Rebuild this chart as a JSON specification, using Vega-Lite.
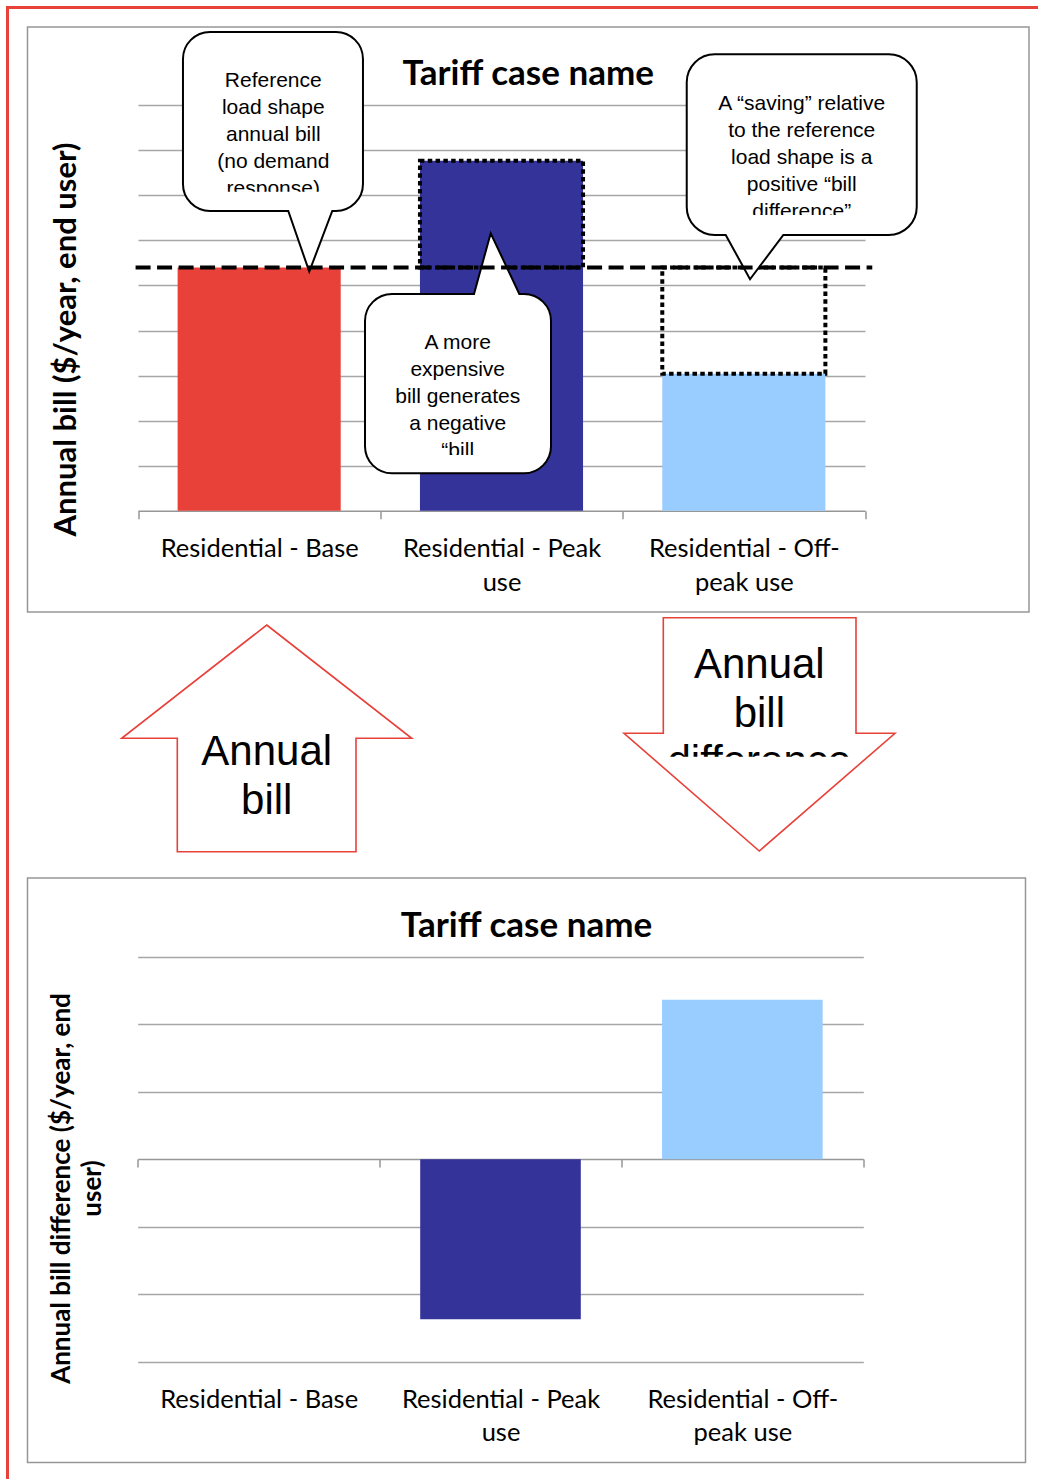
{
  "$schema": "https://vega.github.io/schema/vega-lite/v6.json",
  "background": "white",
  "padding": {"left": 6, "top": 6, "right": 0, "bottom": 0},
  "config": {"view": {"stroke": null}, "font": "Lato"},
  "datasets": {
    "bills": [
      {"cat": "Residential - Base", "bill": 540, "reference": 540, "difference": 0, "note": "Reference\nload shape\nannual bill\n(no demand\nresponse)"},
      {"cat": "Residential - Peak use", "bill": 777, "reference": 540, "difference": -237, "note": "A more\nexpensive\nbill generates\na negative\n“bill"},
      {"cat": "Residential - Off-peak use", "bill": 304, "reference": 540, "difference": 236, "note": "A “saving” relative\nto the reference\nload shape is a\npositive “bill\ndifference”"}
    ],
    "arrows": [
      {"arrow": "Annual bill"},
      {"arrow": "Annual bill difference"}
    ]
  },
  "spacing": 0,
  "bounds": "flush",
  "resolve": {"scale": {"shape": "independent", "color": "independent"}},
  "vconcat": [
    {
      "width": 1032,
      "height": 3,
      "view": {"fill": "#e8413a", "stroke": null},
      "data": {"values": [{}]},
      "mark": {"type": "point", "size": 0, "opacity": 0, "strokeWidth": 0}
    },
    {
      "spacing": 18.5,
      "bounds": "flush",
      "resolve": {"scale": {"shape": "independent", "color": "independent"}},
      "hconcat": [
        {
          "width": 3,
          "height": 1470,
          "view": {"fill": "#e8413a", "stroke": null},
          "data": {"values": [{}]},
          "mark": {"type": "point", "size": 0, "opacity": 0, "strokeWidth": 0}
        },
        {
          "spacing": 0,
          "bounds": "flush",
          "resolve": {"scale": {"shape": "independent", "color": "independent"}},
          "vconcat": [
            {
              "width": 1001.5,
              "height": 18,
              "data": {"values": [{}]},
              "mark": {"type": "point", "size": 0, "opacity": 0, "strokeWidth": 0}
            },
            {
              "width": 1001.5,
              "height": 585,
              "view": {"stroke": "#969696", "strokeWidth": 1.5, "fill": "white"},
              "title": {"text": "Tariff case name", "offset": -93, "baseline": "alphabetic", "anchor": "middle", "font": "Lato", "fontSize": 35, "fontWeight": "bold", "color": "black"},
              "data": {"name": "bills"},
              "resolve": {"scale": {"shape": "independent"}},
              "encoding": {
                "x": {
                  "field": "cat", "type": "nominal", "sort": null, "title": null,
                  "scale": {"range": [110.5, 837.5], "paddingInner": 0, "paddingOuter": 0},
                  "axis": {
                    "orient": "bottom", "offset": -101.3, "grid": false, "title": null,
                    "domainColor": "#969696", "domainWidth": 1.5,
                    "tickColor": "#969696", "tickWidth": 1.5, "tickSize": 8, "tickBand": "extent",
                    "labelPadding": 38, "labelBaseline": "alphabetic", "labelFont": "Lato", "labelFontSize": 25.5,
                    "labelColor": "black", "labelAngle": 0, "labelLineHeight": 33.5, "labelLimit": 400,
                    "labelOverlap": false, "labelBound": false,
                    "labelExpr": "datum.value == 'Residential - Peak use' ? ['Residential - Peak', 'use'] : datum.value == 'Residential - Off-peak use' ? ['Residential - Off-', 'peak use'] : datum.value"
                  }
                },
                "y": {
                  "field": "bill", "type": "quantitative",
                  "scale": {"domain": [0, 900], "range": [483.7, 78.3], "nice": false},
                  "axis": {
                    "orient": "left", "labels": false, "ticks": false, "domain": false,
                    "grid": true, "values": [100, 200, 300, 400, 500, 600, 700, 800, 900],
                    "gridColor": "#a6a6a6", "gridWidth": 1.5,
                    "title": "Annual bill ($/year, end user)", "titleFont": "Lato", "titleFontSize": 31,
                    "titleFontWeight": "bold", "titleColor": "black", "titleAngle": -90,
                    "titleX": 48, "titleY": 312, "titleAlign": "center", "titleBaseline": "alphabetic"
                  }
                }
              },
              "layer": [
                {
                  "mark": {"type": "bar", "width": {"band": 0.673}},
                  "encoding": {
                    "color": {
                      "field": "cat", "type": "nominal",
                      "scale": {"domain": ["Residential - Base", "Residential - Peak use", "Residential - Off-peak use"], "range": ["#e8413a", "#333399", "#99ccff"]},
                      "legend": null
                    }
                  }
                },
                {
                  "transform": [{"filter": "datum.difference != 0"}],
                  "mark": {"type": "bar", "width": {"band": 0.673}, "fillOpacity": 0, "stroke": "black", "strokeWidth": 4, "strokeDash": [4.5, 3.3]},
                  "encoding": {
                    "y2": {"field": "reference"}
                  }
                },
                {
                  "mark": {"type": "point", "filled": true, "fill": "white", "stroke": "black", "strokeWidth": 2, "size": 40000, "opacity": 1},
                  "encoding": {
                    "y": {"field": "reference", "type": "quantitative"},
                    "shape": {
                      "field": "cat", "type": "nominal", "legend": null,
                      "scale": {
                        "domain": ["Residential - Base", "Residential - Peak use", "Residential - Off-peak use"],
                        "range": [
                          "M-0.492,-2.355L0.768,-2.355C0.917,-2.355 1.038,-2.234 1.038,-2.085L1.038,-0.835C1.038,-0.686 0.917,-0.565 0.768,-0.565L0.731,-0.565L0.501,0.042L0.291,-0.565L-0.492,-0.565C-0.641,-0.565 -0.762,-0.686 -0.762,-0.835L-0.762,-2.085C-0.762,-2.234 -0.641,-2.355 -0.492,-2.355Z",
                          "M-1.095,0.265L-0.275,0.265L-0.108,-0.342L0.178,0.265L0.225,0.265C0.374,0.265 0.495,0.386 0.495,0.535L0.495,1.788C0.495,1.937 0.374,2.058 0.225,2.058L-1.095,2.058C-1.244,2.058 -1.365,1.937 -1.365,1.788L-1.365,0.535C-1.365,0.386 -1.244,0.265 -1.095,0.265Z",
                          "M-0.291,-2.132L1.449,-2.132C1.604,-2.132 1.729,-2.007 1.729,-1.852L1.729,-0.605C1.729,-0.45 1.604,-0.325 1.449,-0.325L0.395,-0.325L0.062,0.118L-0.181,-0.325L-0.291,-0.325C-0.446,-0.325 -0.571,-0.45 -0.571,-0.605L-0.571,-1.852C-0.571,-2.007 -0.446,-2.132 -0.291,-2.132Z"
                        ]
                      }
                    }
                  }
                },
                {
                  "transform": [{"filter": "datum.cat == 'Residential - Base'"}],
                  "mark": {"type": "text", "font": "Liberation Sans", "fontSize": 21, "lineHeight": 27, "lineBreak": "\n", "align": "center", "baseline": "alphabetic", "color": "black", "dx": 14.1, "dy": -180.2},
                  "encoding": {
                    "y": {"field": "reference", "type": "quantitative"},
                    "text": {"field": "note"}
                  }
                },
                {
                  "transform": [{"filter": "datum.cat == 'Residential - Peak use'"}],
                  "mark": {"type": "text", "font": "Liberation Sans", "fontSize": 21, "lineHeight": 27, "lineBreak": "\n", "align": "center", "baseline": "alphabetic", "color": "black", "dx": -43.8, "dy": 81.5},
                  "encoding": {
                    "y": {"field": "reference", "type": "quantitative"},
                    "text": {"field": "note"}
                  }
                },
                {
                  "transform": [{"filter": "datum.cat == 'Residential - Off-peak use'"}],
                  "mark": {"type": "text", "font": "Liberation Sans", "fontSize": 21, "lineHeight": 27, "lineBreak": "\n", "align": "center", "baseline": "alphabetic", "color": "black", "dx": 57.9, "dy": -157.5},
                  "encoding": {
                    "y": {"field": "reference", "type": "quantitative"},
                    "text": {"field": "note"}
                  }
                },
                {
                  "mark": {"type": "point", "filled": true, "fill": "white", "strokeWidth": 0, "size": 40000, "opacity": 1},
                  "encoding": {
                    "y": {"field": "reference", "type": "quantitative"},
                    "shape": {
                      "field": "cat", "type": "nominal", "legend": null,
                      "scale": {
                        "domain": ["Residential - Base", "Residential - Peak use", "Residential - Off-peak use"],
                        "range": [
                          "M-0.44,-0.758L0.76,-0.758L0.76,-0.615L-0.44,-0.615Z",
                          "M-0.915,1.875L0.035,1.875L0.035,2.015L-0.915,2.015Z",
                          "M-0.14,-0.525L1.362,-0.525L1.362,-0.375L-0.14,-0.375Z"
                        ]
                      }
                    }
                  }
                },
                {
                  "transform": [{"filter": "datum.cat == 'Residential - Base'"}],
                  "mark": {"type": "rule", "color": "black", "strokeWidth": 4, "strokeDash": [15, 6.5]},
                  "encoding": {
                    "x": {"datum": "Residential - Base", "type": "nominal", "bandPosition": -0.01},
                    "x2": {"datum": "Residential - Off-peak use", "bandPosition": 1.03},
                    "y": {"field": "reference", "type": "quantitative"}
                  }
                }
              ]
            },
            {
              "width": 1001.5,
              "height": 265.5,
              "data": {"name": "arrows"},
              "layer": [
                {
                  "mark": {"type": "point", "filled": true, "fill": "white", "strokeWidth": 0, "size": 40000, "opacity": 1},
                  "encoding": {
                    "x": {"field": "arrow", "type": "nominal", "sort": null, "scale": {"type": "point", "range": [239.2, 731.8], "padding": 0}, "axis": null},
                    "shape": {
                      "field": "arrow", "type": "nominal", "legend": null,
                      "scale": {
                        "domain": ["Annual bill", "Annual bill difference"],
                        "range": [
                          "M0,-1.1975L1.45,-0.0645L0.893,-0.0645L0.893,1.0695L-0.894,1.0695L-0.894,-0.0645L-1.45,-0.0645Z",
                          "M-0.96,-1.2705L0.967,-1.2705L0.967,-0.1145L1.357,-0.1145L0,1.0625L-1.353,-0.1145L-0.96,-0.1145Z"
                        ]
                      }
                    }
                  }
                },
                {
                  "transform": [{"filter": "datum.arrow == 'Annual bill'"}],
                  "mark": {"type": "text", "font": "Liberation Sans", "fontSize": 42, "lineHeight": 49, "lineBreak": " ", "align": "center", "baseline": "alphabetic", "color": "black", "dy": 20.25},
                  "encoding": {
                    "x": {"field": "arrow", "type": "nominal", "sort": null, "axis": null},
                    "text": {"field": "arrow"}
                  }
                },
                {
                  "transform": [{"filter": "datum.arrow == 'Annual bill difference'"}],
                  "mark": {"type": "text", "font": "Liberation Sans", "fontSize": 42, "lineHeight": 48.5, "lineBreak": " ", "align": "center", "baseline": "alphabetic", "color": "black", "dy": -66.45},
                  "encoding": {
                    "x": {"field": "arrow", "type": "nominal", "sort": null, "axis": null},
                    "text": {"field": "arrow"}
                  }
                },
                {
                  "transform": [{"filter": "datum.arrow == 'Annual bill difference'"}],
                  "mark": {"type": "point", "filled": true, "fill": "white", "strokeWidth": 0, "size": 40000, "opacity": 1, "shape": "M-1.093,0.12L1.107,0.12L1.107,0.46L-1.093,0.46Z"},
                  "encoding": {
                    "x": {"field": "arrow", "type": "nominal", "sort": null, "axis": null}
                  }
                },
                {
                  "mark": {"type": "point", "filled": false, "fill": null, "stroke": "#e8413a", "strokeWidth": 1.6, "size": 40000, "opacity": 1},
                  "encoding": {
                    "x": {"field": "arrow", "type": "nominal", "sort": null, "axis": null},
                    "shape": {"field": "arrow", "type": "nominal", "legend": null}
                  }
                }
              ]
            },
            {
              "width": 998,
              "height": 584.5,
              "view": {"stroke": "#969696", "strokeWidth": 1.5, "fill": "white"},
              "title": {"text": "Tariff case name", "offset": -94, "baseline": "alphabetic", "anchor": "middle", "font": "Lato", "fontSize": 35, "fontWeight": "bold", "color": "black"},
              "data": {"name": "bills"},
              "mark": {"type": "bar", "width": {"band": 0.664}},
              "encoding": {
                "x": {
                  "field": "cat", "type": "nominal", "sort": null, "title": null,
                  "scale": {"range": [110.2, 835.8], "paddingInner": 0, "paddingOuter": 0},
                  "axis": {
                    "orient": "bottom", "offset": -303.5, "grid": false,
                    "domainColor": "#969696", "domainWidth": 1.5,
                    "tickColor": "#969696", "tickWidth": 1.5, "tickSize": 8, "tickBand": "extent",
                    "labelPadding": 240.2, "labelBaseline": "alphabetic", "labelFont": "Lato", "labelFontSize": 25.5,
                    "labelColor": "black", "labelAngle": 0, "labelLineHeight": 33.5, "labelLimit": 400,
                    "labelOverlap": false, "labelBound": false,
                    "labelExpr": "datum.value == 'Residential - Peak use' ? ['Residential - Peak', 'use'] : datum.value == 'Residential - Off-peak use' ? ['Residential - Off-', 'peak use'] : datum.value"
                  }
                },
                "y": {
                  "field": "difference", "type": "quantitative",
                  "scale": {"domain": [-300, 300], "range": [483.8, 78.5], "nice": false},
                  "axis": {
                    "orient": "left", "labels": false, "ticks": false, "domain": false,
                    "grid": true, "values": [-300, -200, -100, 100, 200, 300],
                    "gridColor": "#a6a6a6", "gridWidth": 1.5,
                    "title": ["Annual bill difference ($/year, end", "user)"], "titleFont": "Lato", "titleFontSize": 26,
                    "titleLineHeight": 31, "titleFontWeight": "bold", "titleColor": "black", "titleAngle": -90,
                    "titleX": 42, "titleY": 310, "titleAlign": "center", "titleBaseline": "alphabetic"
                  }
                },
                "color": {
                  "field": "cat", "type": "nominal",
                  "scale": {"domain": ["Residential - Base", "Residential - Peak use", "Residential - Off-peak use"], "range": ["#e8413a", "#333399", "#99ccff"]},
                  "legend": null
                }
              }
            }
          ]
        }
      ]
    }
  ]
}
